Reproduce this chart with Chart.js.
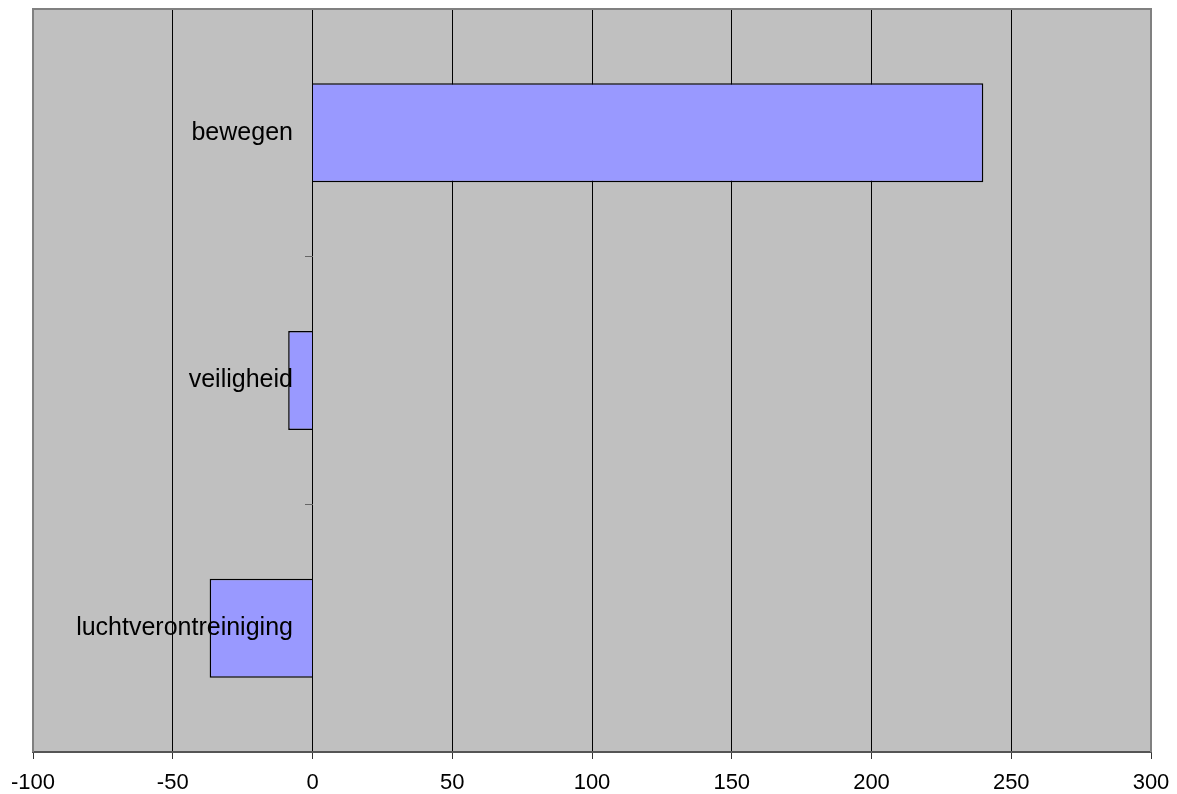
<!DOCTYPE html>
<html>
<head>
<meta charset="utf-8">
<script src="https://cdn.jsdelivr.net/npm/chart.js@4/dist/chart.umd.min.js"></script>
<style>
  html, body { margin: 0; padding: 0; background: #ffffff; }
  canvas { display: block; }
</style>
</head>
<body>
<canvas id="c" width="1177" height="794"></canvas>
<script>
const categories = ['bewegen', 'veiligheid', 'luchtverontreiniging'];
const values = [240, -8.7, -36.8];
const xMin = -100;
const xMax = 300;
const xStep = 50;

const plotBg = {
  id: 'plotBg',
  beforeDraw(chart) {
    const {ctx, chartArea: a} = chart;
    ctx.save();
    ctx.fillStyle = '#c0c0c0';
    ctx.fillRect(a.left, a.top, a.right - a.left, a.bottom - a.top);
    ctx.restore();
  },
  afterDraw(chart) {
    const {ctx, chartArea: a} = chart;
    ctx.save();
    ctx.strokeStyle = '#808080';
    ctx.lineWidth = 2;
    ctx.beginPath();
    ctx.moveTo(a.left, a.bottom);
    ctx.lineTo(a.left, a.top);
    ctx.lineTo(a.right, a.top);
    ctx.lineTo(a.right, a.bottom);
    ctx.stroke();
    ctx.restore();
  }
};

const noVPad = (scale) => { scale.paddingTop = 0; scale.paddingBottom = 0; };
const noHPad = (scale) => { scale.paddingLeft = 0; scale.paddingRight = 0; };
const labelFont = { family: "'Liberation Sans', Arial, sans-serif", size: 25 };

new Chart(document.getElementById('c'), {
  type: 'bar',
  data: {
    labels: categories,
    datasets: [{
      data: values,
      yAxisID: 'y',
      backgroundColor: '#9999ff',
      borderColor: '#000000',
      borderWidth: 1.5,
      barPercentage: 0.4,
      categoryPercentage: 1.0
    }]
  },
  options: {
    indexAxis: 'y',
    responsive: false,
    animation: false,
    layout: { padding: { left: 33, right: 26, top: 9, bottom: -13 } },
    plugins: {
      legend: { display: false },
      tooltip: { enabled: false }
    },
    scales: {
      x: {
        type: 'linear',
        min: xMin,
        max: xMax,
        afterFit: noHPad,
        ticks: {
          stepSize: xStep,
          color: '#000000',
          font: { family: "'Liberation Sans', Arial, sans-serif", size: 22, lineHeight: 1.0 },
          padding: 13,
          maxRotation: 0
        },
        grid: {
          color: '#000000',
          lineWidth: 1,
          drawTicks: true,
          tickLength: 7,
          tickColor: '#333333'
        },
        border: { display: true, color: '#555555', width: 2 }
      },
      y: {
        type: 'category',
        position: { x: -7 },
        afterFit: noVPad,
        ticks: {
          z: 1,
          color: '#000000',
          font: labelFont
        },
        grid: { display: false },
        border: { display: false }
      },
      y2: {
        type: 'category',
        axis: 'y',
        position: { x: 0 },
        afterFit: noVPad,
        offset: true,
        ticks: { display: false },
        grid: {
          offset: true,
          drawOnChartArea: false,
          drawTicks: true,
          tickLength: 8,
          tickColor: '#666666'
        },
        border: { display: false }
      }
    }
  },
  plugins: [plotBg]
});
</script>
</body>
</html>
